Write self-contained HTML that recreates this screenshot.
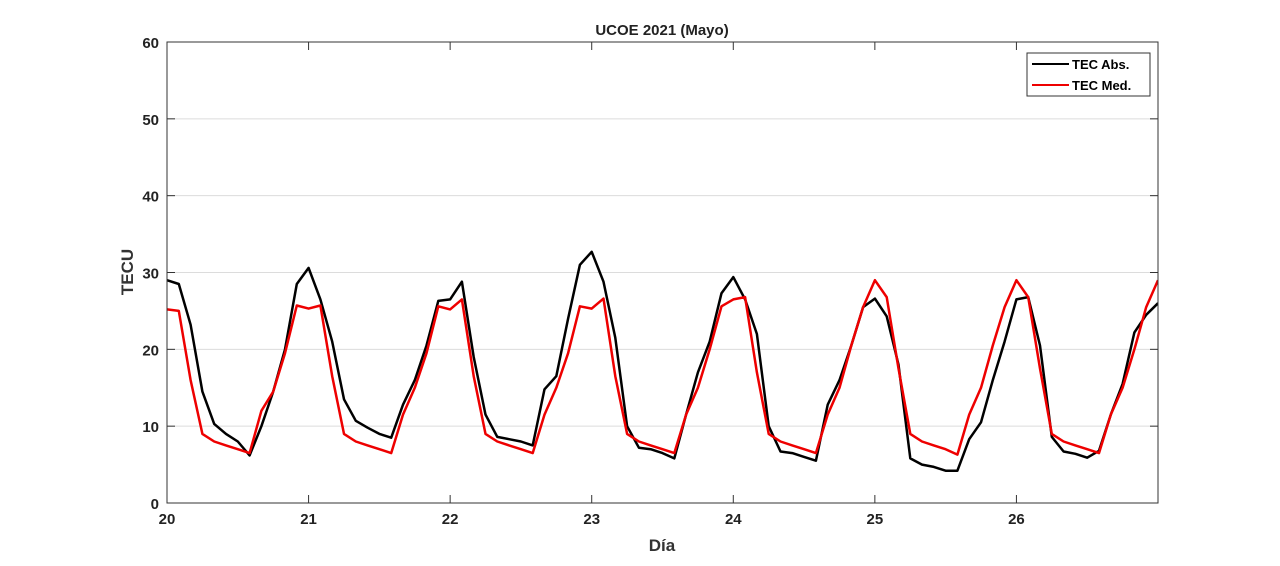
<!DOCTYPE html>
<html><head><meta charset="utf-8"><style>
body{margin:0;background:#fff;}
svg{display:block;font-family:"Liberation Sans",Arial,sans-serif;}
</style></head><body>
<svg id="chart" width="1280" height="566" xmlns="http://www.w3.org/2000/svg">
<rect width="1280" height="566" fill="#fff"/>
<g id="grid"></g>
<g id="series"></g>
<g id="axes"></g>
<text x="662" y="35" text-anchor="middle" font-size="15" font-weight="bold" fill="#222">UCOE 2021 (Mayo)</text>
<text x="662" y="551" text-anchor="middle" font-size="17" font-weight="bold" fill="#333">Día</text>
<text transform="translate(133,272) rotate(-90)" text-anchor="middle" font-size="17" font-weight="bold" fill="#333">TECU</text>
<g>
<rect x="1027" y="53" width="123" height="43" fill="#fff" stroke="#333" stroke-width="1"/>
<line x1="1032" y1="64" x2="1069" y2="64" stroke="#000" stroke-width="2"/>
<text x="1072" y="69" font-size="13" font-weight="bold" fill="#000">TEC Abs.</text>
<line x1="1032" y1="85" x2="1069" y2="85" stroke="#e00" stroke-width="2"/>
<text x="1072" y="90" font-size="13" font-weight="bold" fill="#000">TEC Med.</text>
</g>
</svg>
<script>
const xTicks=[20,21,22,23,24,25,26];
const yTicks=[0,10,20,30,40,50,60];
const stepsPerDay=12;
const tecAbs=[29,28.5,23.2,14.5,10.3,9,8,6.2,10,14.5,20,28.5,30.6,26.5,21,13.5,10.7,9.8,9,8.5,12.8,16,20.5,26.3,26.5,28.8,19,11.5,8.6,8.3,8,7.5,14.8,16.5,24,31,32.7,28.8,21.5,10,7.2,7,6.5,5.8,11.5,17,21,27.3,29.4,26.5,22,10,6.7,6.5,6,5.5,12.8,16,20.5,25.5,26.6,24.3,18,5.8,5,4.7,4.2,4.2,8.3,10.5,16,21,26.5,26.8,20.5,8.6,6.7,6.4,5.9,6.8,11.5,15.5,22.2,24.5,26];
const tecMed=[25.2,25,16,9,8,7.5,7,6.5,12,14.5,19.5,25.7,25.3,25.7,16.5,9,8,7.5,7,6.5,11.5,15,19.5,25.6,25.2,26.5,16.5,9,8,7.5,7,6.5,11.5,15,19.5,25.6,25.3,26.6,16.5,9,8,7.5,7,6.5,11.5,15,20,25.6,26.5,26.8,17,9,8,7.5,7,6.5,11.5,15,20.5,25.5,29,26.8,17.5,9,8,7.5,7,6.3,11.5,15,20.5,25.5,29,26.8,17.5,9,8,7.5,7,6.5,11.5,15,20,25.5,29];
const X0=167,X1=1158,Y0=503,Y1=42,xmin=20,xmax=27,ymin=0,ymax=60;
const sx=v=>X0+(v-xmin)/(xmax-xmin)*(X1-X0);
const sy=v=>Y0-(v-ymin)/(ymax-ymin)*(Y0-Y1);
const NS="http://www.w3.org/2000/svg";
function mk(tag,attrs,parent){const e=document.createElementNS(NS,tag);for(const k in attrs)e.setAttribute(k,attrs[k]);parent.appendChild(e);return e;}
const grid=document.getElementById('grid'),axes=document.getElementById('axes'),series=document.getElementById('series');
yTicks.forEach(t=>{
 const l=mk('line',{x1:X0,x2:X1,y1:sy(t),y2:sy(t),stroke:'#dcdcdc','stroke-width':1},grid);
 
 
 const tk=mk('line',{x1:X0,x2:X0+8,y1:sy(t),y2:sy(t),stroke:'#333'},axes);
 
 
 const tk2=mk('line',{x1:X1-8,x2:X1,y1:sy(t),y2:sy(t),stroke:'#333'},axes);
 
 
 const tx=mk('text',{x:X0-8,y:sy(t)+6,'text-anchor':'end','font-size':15,'font-weight':'bold',fill:'#222'},axes);
 tx.textContent=t;
 
 
});
xTicks.forEach(t=>{
 const tk=mk('line',{x1:sx(t),x2:sx(t),y1:Y0,y2:Y0-8,stroke:'#333'},axes);
 
 
 const tk2=mk('line',{x1:sx(t),x2:sx(t),y1:Y1,y2:Y1+8,stroke:'#333'},axes);
 
 
 const tx=mk('text',{x:sx(t),y:Y0+21,'text-anchor':'middle','font-size':15,'font-weight':'bold',fill:'#222'},axes);
 tx.textContent=t;
 
 
});
const box=mk('rect',{x:X0,y:Y1,width:X1-X0,height:Y0-Y1,fill:'none',stroke:'#333','stroke-width':1},axes);


mk('clipPath',{id:'clip'},series).appendChild((()=>{const r=document.createElementNS(NS,'rect');r.setAttribute('x',X0);r.setAttribute('y',Y1);r.setAttribute('width',X1-X0);r.setAttribute('height',Y0-Y1);return r;})());
function line(arr,color,name){
 const d=arr.map((v,i)=>(i?'L':'M')+sx(xmin+i/stepsPerDay).toFixed(1)+','+sy(v).toFixed(1)).join(' ');
 const p=mk('path',{d:d,fill:'none',stroke:color,'stroke-width':2.5,'stroke-linejoin':'round','clip-path':'url(#clip)'},series);
 
 
}
line(tecAbs,'#000','tec-abs-line');
line(tecMed,'#e00','tec-med-line');
</script>
</body></html>
